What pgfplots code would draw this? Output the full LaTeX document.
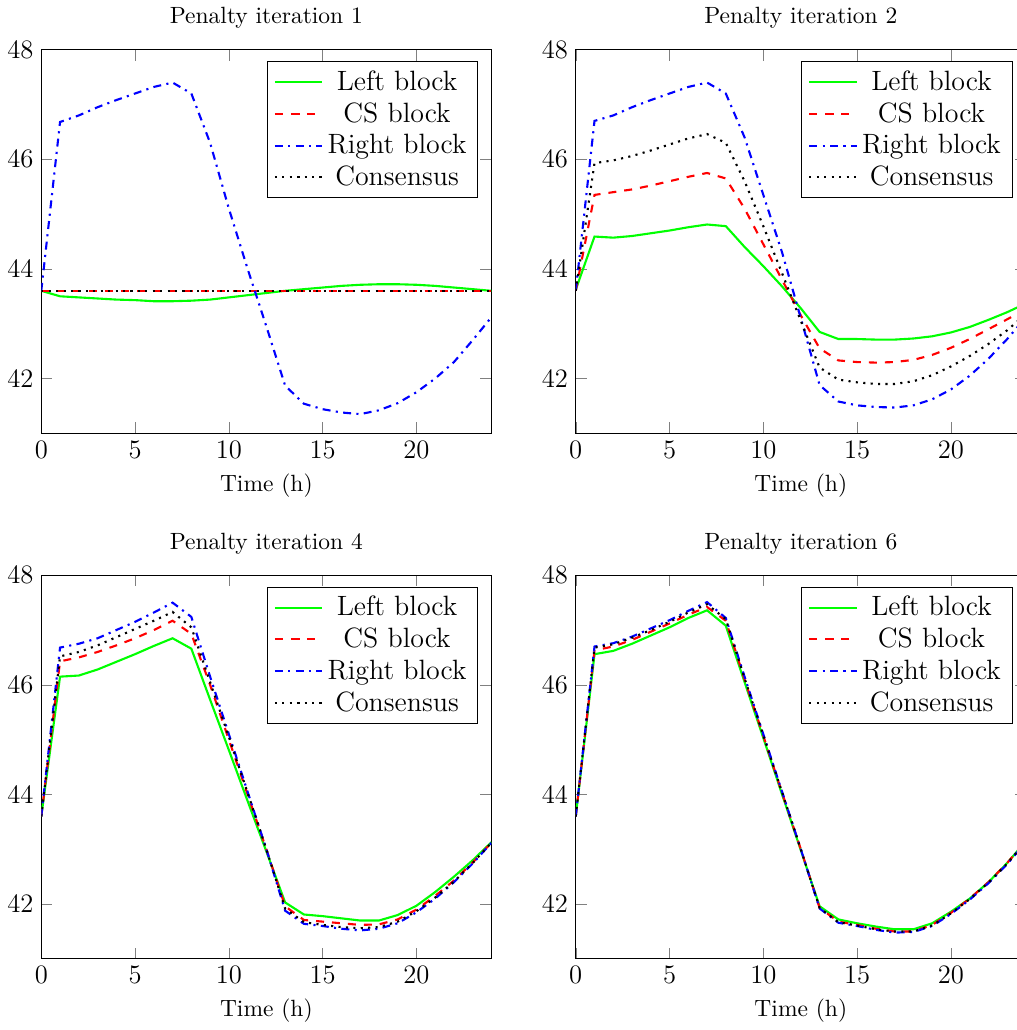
\documentclass[border=0pt]{standalone}
\usepackage{pgfplots}
\pgfplotsset{compat=1.18}
\usepgfplotslibrary{groupplots}

\pgfplotsset{
  lb/.style={green, line width=0.95pt},
  cs/.style={red, line width=0.95pt, dash pattern=on 3.6pt off 3.6pt},
  rb/.style={blue, line width=0.95pt, dash pattern=on 3.6pt off 2.4pt on 0.95pt off 2.4pt},
  co/.style={black, line width=0.95pt, dash pattern=on 0.95pt off 2.4pt},
}

\begin{document}
\begin{tikzpicture}
\begin{groupplot}[
    group style={group size=2 by 2, horizontal sep=38pt, vertical sep=64pt},
    scale only axis,
    width=203pt, height=173pt,
    xmin=0, xmax=24, ymin=41, ymax=48,
    xtick={0,5,10,15,20}, ytick={42,44,46,48},
    major tick length=5pt,
    tick label style={font=\fontsize{12}{14.4}\selectfont},
    title style={font=\fontsize{10.6}{12.7}\selectfont},
    label style={font=\fontsize{10.6}{12.7}\selectfont},
    xlabel={Time (h)},
    legend pos=north east,
    legend style={font=\fontsize{12.6}{15}\selectfont},
    legend image post style={xscale=1.25},
]
% ---- iteration 1
\nextgroupplot[title={Penalty iteration 1}]
\addplot[lb] coordinates {
 (0,43.6) (1,43.5) (2,43.48) (3,43.46) (4,43.44) (5,43.43) (6,43.41) (7,43.41)
 (8,43.42) (9,43.44) (10,43.48) (11,43.52) (12,43.56) (13,43.6) (14,43.63)
 (15,43.66) (16,43.69) (17,43.71) (18,43.72) (19,43.72) (20,43.71) (21,43.69)
 (22,43.66) (23,43.63) (24,43.6)};
\addplot[cs] coordinates {(0,43.6) (6,43.6) (12,43.6) (18,43.6) (24,43.6)};
\addplot[rb] coordinates {
 (0,43.6) (1,46.68) (2,46.8) (3,46.95) (4,47.08) (5,47.2) (6,47.32) (7,47.4)
 (8,47.2) (9,46.3) (10,45.1) (11,44.0) (12,42.95) (13,41.87) (14,41.54)
 (15,41.44) (16,41.38) (17,41.35) (18,41.42) (19,41.55) (20,41.75) (21,42.0)
 (22,42.3) (23,42.7) (24,43.12)};
\addplot[co] coordinates {(0,43.6) (6,43.6) (12,43.6) (18,43.6) (24,43.6)};
\legend{Left block, CS block, Right block, Consensus}
% ---- iteration 2
\nextgroupplot[title={Penalty iteration 2}]
\addplot[lb] coordinates {
 (0,43.62) (1,44.59) (2,44.57) (3,44.6) (4,44.65) (5,44.7) (6,44.76) (7,44.81)
 (8,44.78) (9,44.4) (10,44.05) (11,43.68) (12,43.28) (13,42.85) (14,42.72)
 (15,42.72) (16,42.71) (17,42.71) (18,42.73) (19,42.77) (20,42.84) (21,42.94)
 (22,43.07) (23,43.21) (24,43.37)};
\addplot[cs] coordinates {
 (0,43.6) (1,45.35) (2,45.4) (3,45.45) (4,45.52) (5,45.6) (6,45.68) (7,45.75)
 (8,45.65) (9,45.1) (10,44.45) (11,43.8) (12,43.15) (13,42.55) (14,42.33)
 (15,42.3) (16,42.29) (17,42.3) (18,42.34) (19,42.43) (20,42.56) (21,42.72)
 (22,42.9) (23,43.08) (24,43.27)};
\addplot[rb] coordinates {
 (0,43.6) (1,46.7) (2,46.8) (3,46.95) (4,47.08) (5,47.2) (6,47.32) (7,47.4)
 (8,47.2) (9,46.4) (10,45.35) (11,44.3) (12,43.1) (13,41.88) (14,41.58)
 (15,41.51) (16,41.48) (17,41.47) (18,41.51) (19,41.62) (20,41.8) (21,42.05)
 (22,42.36) (23,42.72) (24,43.12)};
\addplot[co] coordinates {
 (0,43.6) (1,45.93) (2,45.98) (3,46.06) (4,46.16) (5,46.27) (6,46.38) (7,46.46)
 (8,46.3) (9,45.6) (10,44.78) (11,43.92) (12,43.05) (13,42.2) (14,41.98)
 (15,41.93) (16,41.9) (17,41.9) (18,41.95) (19,42.06) (20,42.22) (21,42.41)
 (22,42.63) (23,42.88) (24,43.18)};
\legend{Left block, CS block, Right block, Consensus}
\coordinate (RR) at (rel axis cs:1,1);
% ---- iteration 4
\nextgroupplot[title={Penalty iteration 4}]
\addplot[lb] coordinates {
 (0,43.6) (1,46.15) (2,46.17) (3,46.28) (4,46.42) (5,46.56) (6,46.71) (7,46.85)
 (8,46.66) (9,45.73) (10,44.81) (11,43.88) (12,42.96) (13,42.03) (14,41.81)
 (15,41.78) (16,41.74) (17,41.7) (18,41.7) (19,41.8) (20,41.97) (21,42.22)
 (22,42.5) (23,42.8) (24,43.13)};
\addplot[cs] coordinates {
 (0,43.6) (1,46.43) (2,46.5) (3,46.6) (4,46.72) (5,46.85) (6,47.0) (7,47.17)
 (8,46.93) (9,46.0) (10,45.0) (11,44.0) (12,43.0) (13,41.96) (14,41.71)
 (15,41.68) (16,41.65) (17,41.62) (18,41.63) (19,41.72) (20,41.9) (21,42.15)
 (22,42.43) (23,42.76) (24,43.12)};
\addplot[rb] coordinates {
 (0,43.6) (1,46.68) (2,46.75) (3,46.85) (4,47.0) (5,47.15) (6,47.32) (7,47.5)
 (8,47.24) (9,46.15) (10,45.1) (11,44.05) (12,43.0) (13,41.88) (14,41.64)
 (15,41.6) (16,41.55) (17,41.52) (18,41.55) (19,41.65) (20,41.85) (21,42.1)
 (22,42.4) (23,42.74) (24,43.12)};
\addplot[co] coordinates {
 (0,43.6) (1,46.52) (2,46.6) (3,46.72) (4,46.87) (5,47.02) (6,47.17) (7,47.33)
 (8,47.05) (9,46.05) (10,45.05) (11,44.03) (12,43.0) (13,41.92) (14,41.67)
 (15,41.62) (16,41.58) (17,41.56) (18,41.58) (19,41.68) (20,41.87) (21,42.12)
 (22,42.41) (23,42.75) (24,43.12)};
\legend{Left block, CS block, Right block, Consensus}
% ---- iteration 6
\nextgroupplot[title={Penalty iteration 6}]
\addplot[lb] coordinates {
 (0,43.6) (1,46.56) (2,46.62) (3,46.75) (4,46.9) (5,47.05) (6,47.22) (7,47.36)
 (8,47.08) (9,46.05) (10,45.03) (11,44.0) (12,42.98) (13,41.96) (14,41.72)
 (15,41.65) (16,41.59) (17,41.54) (18,41.54) (19,41.65) (20,41.86) (21,42.1)
 (22,42.4) (23,42.75) (24,43.15)};
\addplot[cs] coordinates {
 (0,43.6) (1,46.63) (2,46.7) (3,46.82) (4,46.97) (5,47.12) (6,47.28) (7,47.42)
 (8,47.17) (9,46.1) (10,45.07) (11,44.03) (12,43.0) (13,41.93) (14,41.68)
 (15,41.62) (16,41.55) (17,41.5) (18,41.5) (19,41.62) (20,41.84) (21,42.1)
 (22,42.4) (23,42.75) (24,43.15)};
\addplot[rb] coordinates {
 (0,43.6) (1,46.7) (2,46.76) (3,46.88) (4,47.03) (5,47.18) (6,47.35) (7,47.51)
 (8,47.22) (9,46.15) (10,45.1) (11,44.05) (12,43.0) (13,41.92) (14,41.66)
 (15,41.6) (16,41.53) (17,41.48) (18,41.49) (19,41.6) (20,41.82) (21,42.08)
 (22,42.38) (23,42.73) (24,43.13)};
\addplot[co] coordinates {
 (0,43.6) (1,46.68) (2,46.74) (3,46.86) (4,47.0) (5,47.15) (6,47.32) (7,47.47)
 (8,47.2) (9,46.12) (10,45.08) (11,44.04) (12,43.0) (13,41.93) (14,41.67)
 (15,41.61) (16,41.54) (17,41.5) (18,41.5) (19,41.61) (20,41.83) (21,42.09)
 (22,42.39) (23,42.74) (24,43.14)};
\legend{Left block, CS block, Right block, Consensus}
\end{groupplot}
\coordinate (SW) at (current bounding box.south west);
\coordinate (NE) at (current bounding box.north east);
\coordinate (RC) at ([xshift=-4.2pt]RR);
\pgfresetboundingbox
\path[use as bounding box] (SW) rectangle (RC |- NE);
\end{tikzpicture}
\end{document}
